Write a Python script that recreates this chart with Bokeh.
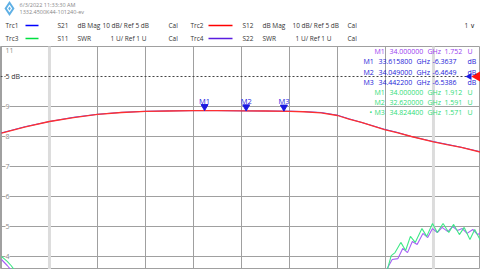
import math
from bokeh.plotting import figure
from bokeh.layouts import column
from bokeh.models import Range1d, FixedTicker
from bokeh.core.properties import value
from bokeh.embed import file_html
from bokeh.resources import INLINE

FONT = value("Open Sans")

# ---------------- data ----------------
# Trc2 S12 / Trc1 S21, dB Mag (10 dB/div, Ref 5 dB)
freq_db = [31.50, 31.75, 32.00, 32.25, 32.50, 32.75, 33.00, 33.25, 33.50, 33.75,
           34.00, 34.25, 34.50, 34.65, 34.83, 35.00, 35.12, 35.25, 35.49, 35.62,
           35.77, 36.00, 36.14, 36.29, 36.49]
s12_db = [-13.9, -11.8, -10.0, -8.7, -7.6, -7.0, -6.6, -6.5, -6.4, -6.4,
          -6.45, -6.5, -6.6, -6.75, -7.1, -8.0, -9.2, -10.3, -12.7, -13.7,
          -15.0, -16.8, -17.7, -18.6, -20.2]
s21_db = [-13.8, -11.7, -10.0, -8.6, -7.6, -6.95, -6.6, -6.45, -6.38, -6.37,
          -6.45, -6.5, -6.55, -6.7, -7.0, -7.9, -9.1, -10.3, -12.6, -13.6,
          -15.0, -16.7, -17.6, -18.6, -20.1]

# Trc3 S11 SWR
freq_s11 = [31.50, 31.53, 31.56, 31.60, 31.63, 31.70, 32.00, 32.62, 33.30, 34.00,
            34.82, 35.20, 35.45, 35.52, 35.56, 35.60, 35.66, 35.71, 35.76, 35.81,
            35.88, 35.93, 35.99, 36.04, 36.10, 36.16, 36.21, 36.27, 36.32, 36.38,
            36.43, 36.49]
s11_swr = [4.00, 3.92, 3.84, 3.70, 3.57, 3.10, 2.30, 1.591, 1.75, 1.912,
           1.571, 2.40, 3.10, 3.57, 4.03, 4.13, 4.47, 4.20, 4.67, 4.47,
           4.93, 4.67, 5.10, 4.80, 5.10, 4.80, 5.07, 4.73, 4.97, 4.57,
           4.90, 4.53]

# Trc4 S22 SWR
freq_s22 = [31.50, 31.53, 31.56, 31.60, 31.65, 31.80, 32.50, 33.20, 34.00, 34.80,
            35.30, 35.48, 35.53, 35.57, 35.63, 35.68, 35.73, 35.78, 35.83, 35.89,
            35.94, 35.99, 36.04, 36.09, 36.15, 36.20, 36.25, 36.30, 36.35, 36.41,
            36.46, 36.50]
s22_swr = [3.90, 3.80, 3.70, 3.55, 3.30, 2.60, 1.90, 1.70, 1.752, 1.80,
           2.60, 3.30, 3.67, 3.90, 3.93, 4.27, 4.13, 4.50, 4.40, 4.77,
           4.63, 4.93, 4.80, 4.97, 4.83, 5.00, 4.87, 4.93, 4.77, 4.90,
           4.73, 4.80]

# Trc1 markers
mk_names = ["M1", "M2", "M3"]
mk_freq = [33.6158, 34.0490, 34.4422]
mk_db = [-6.3637, -6.4649, -6.5386]

# marker table
tab_names = ["M1", "M1", "M2", "M3", "M1", "M2", "M3"]
tab_freq = [34.000000, 33.615800, 34.049000, 34.442200, 34.000000, 32.620000, 34.824400]
tab_vals = ["1.752", "-6.3637", "-6.4649", "-6.5386", "1.912", "1.591", "1.571"]
tab_units = ["U", "dB", "dB", "dB", "U", "U", "U"]
tab_group = ["trc4", "trc1", "trc1", "trc1", "trc3", "trc3", "trc3"]

# y scale labels
ytick_vals = [10, 9, 8, 7, 6, 5, 4]
ytick_text = ["5 dB", "9", "8", "7", "6", "5", "4"]
x_ticks = [31.5, 32.0, 32.5, 33.0, 33.5, 34.0, 34.5, 35.0, 35.5, 36.0, 36.5]
y_grid = [4, 5, 6, 7, 8, 9, 11]

# header
hdr_row1 = ["Trc1", "S21", "dB Mag", "10 dB/ Ref 5 dB", "Cal", "Trc2", "S12", "dB Mag", "10 dB/ Ref 5 dB", "Cal"]
hdr_row2 = ["Trc3", "S11", "SWR", "1 U/ Ref 1 U", "Cal", "Trc4", "S22", "SWR", "1 U/ Ref 1 U", "Cal"]
hdr_date = ["6/3/2022 11:33:30 AM", "1332.4500K44-101240-ev"]

# ---------------- style ----------------
BLUE = "#2020ff"
RED = "#ff3030"
GREEN = "#40e888"
PURPLE = "#a860f5"
TXT = "#333333"
GRID = "#a0a0a0"
grp_color = {"trc1": "#2323d8", "trc3": "#2fdc78", "trc4": "#9a3df0"}

def db_to_div(d):
    return 10 + (d - 5) / 10.0

W = 480
HDR_H = 46
PLOT_H = 269 - HDR_H
HFS = "6.5px"
TFS = "7px"

# ---------------- header ----------------
h = figure(width=W, height=HDR_H, x_range=Range1d(0, W), y_range=Range1d(HDR_H, 0),
           toolbar_location=None, output_backend="svg", min_border=0)
h.axis.visible = False
h.grid.visible = False
h.outline_line_color = None

h.scatter(x=[9], y=[8], marker="diamond", size=15, fill_color="#5fb0e5", line_color=None)
h.scatter(x=[9], y=[8], marker="diamond", size=8, fill_color="white", line_color=None)
h.scatter(x=[9], y=[8], marker="diamond", size=4, fill_color="#5fb0e5", line_color=None)
h.text(x=[19, 19], y=[4.5, 11], text=hdr_date, text_font=FONT, text_font_size="5.5px",
       text_color="#888888", text_baseline="middle")

row1_x = [5, 57, 77, 102, 168, 190, 242, 262, 292, 347]
row2_x = [5, 57, 77, 110, 168, 190, 242, 262, 295, 347]
h.text(x=row1_x, y=[25] * len(row1_x), text=hdr_row1, text_font=FONT, text_font_size=HFS,
       text_color=TXT, text_baseline="middle")
h.text(x=row2_x, y=[38] * len(row2_x), text=hdr_row2, text_font=FONT, text_font_size=HFS,
       text_color=TXT, text_baseline="middle")
h.segment(x0=[25, 208, 25, 208], y0=[25, 25, 38, 38], x1=[38, 232, 38, 232], y1=[25, 25, 38, 38],
          line_color=["#0000ff", "#ff0000", "#00e040", "#5a1de0"], line_width=1.5)
h.text(x=[464], y=[25], text=["1 \u2228"], text_font=FONT, text_font_size=HFS,
       text_color=TXT, text_baseline="middle")

# ---------------- main plot ----------------
x0, x1 = 31.49, 31.49 + W / 96.0
p = figure(width=W, height=PLOT_H, x_range=Range1d(x0, x1), y_range=Range1d(11 - PLOT_H / 30.0, 11.0),
           toolbar_location=None, output_backend="svg", min_border=0)
p.xaxis.visible = False
p.yaxis.visible = False
p.xgrid.ticker = FixedTicker(ticks=x_ticks)
p.ygrid.ticker = FixedTicker(ticks=y_grid)
p.grid.grid_line_color = GRID
p.grid.grid_line_alpha = 1.0
p.outline_line_color = GRID

# highlighted frequency lines
p.segment(x0=[32.0, 36.0], x1=[32.0, 36.0], y0=[0, 0], y1=[12, 12], line_color="#dcdcdc", line_width=3)
# reference line
p.segment(x0=[x0], x1=[x1], y0=[10], y1=[10], line_color="#444444", line_dash="2 2", line_width=1)

# SWR traces
p.line(freq_s22, s22_swr, line_color=PURPLE, line_width=1.1)
p.line(freq_s11, s11_swr, line_color=GREEN, line_width=1.1)
# dB traces
p.line(freq_db, [db_to_div(v) for v in s21_db], line_color=BLUE, line_width=0.8)
p.line(freq_db, [db_to_div(v) for v in s12_db], line_color=RED, line_width=1.3)

# markers on Trc1
mk_y = [db_to_div(v) for v in mk_db]
p.scatter(x=mk_freq, y=[v + 4 / 30.0 for v in mk_y], marker="inverted_triangle", size=7,
          fill_color="#1a1ae0", line_color="#1a1ae0")
p.text(x=mk_freq, y=mk_y, text=mk_names, text_font=FONT, text_font_size="7.5px", text_color="#1a1ae0",
       text_align="center", text_baseline="middle", y_offset=-10)

# reference arrows
p.scatter(x=[x1 - 3 / 96.0], y=[10], marker="triangle", angle=math.pi / 2, size=11,
          fill_color="#ff1010", line_color=None)
p.scatter(x=[x1 - 11 / 96.0], y=[10], marker="triangle", angle=math.pi / 2, size=7,
          fill_color="#1a1ae0", line_color=None)

# y scale labels
p.text(x=[x0] * len(ytick_vals), y=ytick_vals, text=ytick_text, x_offset=5, text_font=FONT,
       text_font_size="7px", text_color=["#333333"] + ["#8a8a8a"] * (len(ytick_vals) - 1),
       text_baseline="middle", background_fill_color="white")
p.text(x=[x0], y=[11], text=["11"], x_offset=5, y_offset=1, text_font=FONT,
       text_font_size="7px", text_color="#8a8a8a", text_baseline="top")

# marker table
row_px = [51, 61, 71.5, 81.7, 91.7, 101.7, 111.5]
row_y = [11 - (r - HDR_H) / 30.0 for r in row_px]
col_left = {"trc1": [363, 378, 416, 432, 467], "trc3": [374, 389, 427, 444, 467],
            "trc4": [374, 389, 427, 444, 467]}
for i in range(len(tab_names)):
    g = tab_group[i]
    cols = col_left[g]
    items = [tab_names[i], "%.6f" % tab_freq[i], "GHz", tab_vals[i], tab_units[i]]
    xs = [x0 + c / 96.0 for c in cols]
    p.text(x=xs, y=[row_y[i]] * 5, text=items, text_font=FONT, text_font_size=TFS,
           text_color=grp_color[g], text_baseline="middle")
# active marker bullet
p.text(x=[x0 + 369 / 96.0], y=[row_y[6]], text=["\u2022"], text_font=FONT, text_font_size=TFS,
       text_color=grp_color["trc3"], text_baseline="middle")

layout = column(h, p, spacing=0)
open("out.html", "w").write(file_html(layout, INLINE))
